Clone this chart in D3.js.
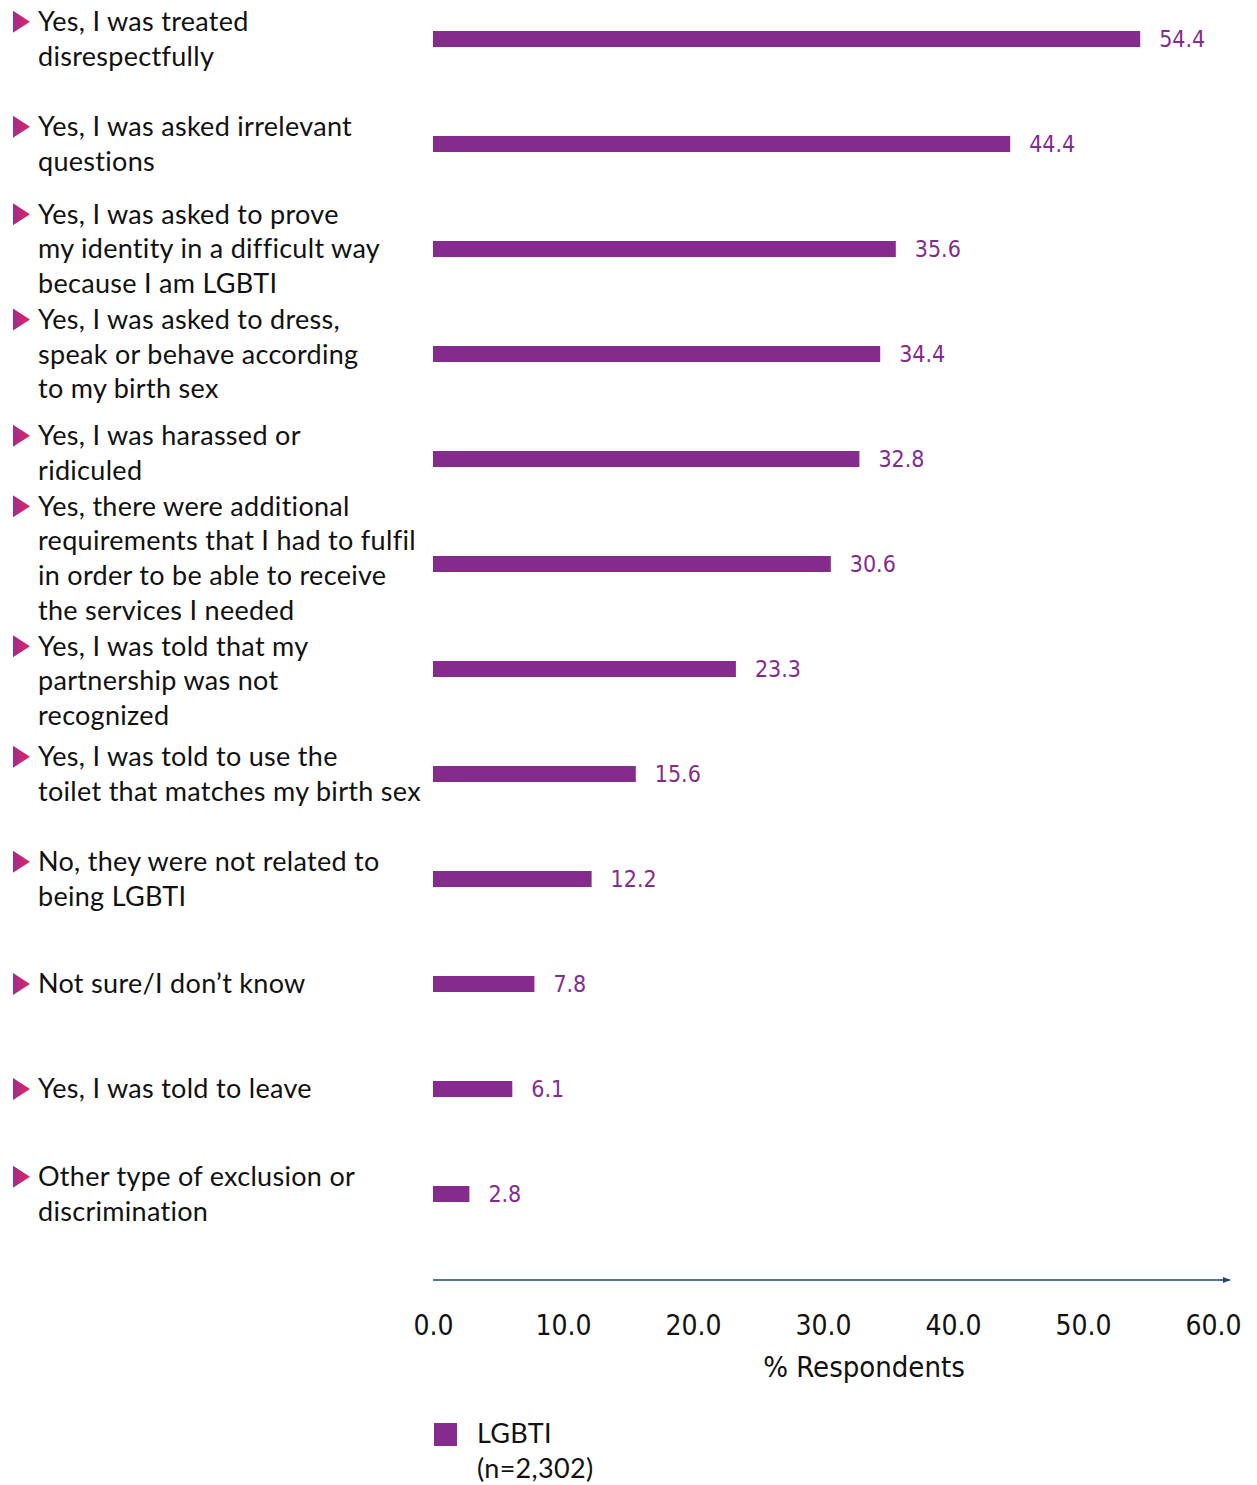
<!DOCTYPE html>
<html><head><meta charset="utf-8">
<script src="https://cdn.jsdelivr.net/npm/d3@7"></script>
<style>
body{margin:0;background:#fff;}
svg{display:block;}
.cat{font-family:Lato,"Noto Sans",sans-serif;font-size:27px;fill:#111;letter-spacing:0.3px;}
.narrow{font-family:"Liberation Sans Narrow","DejaVu Sans Condensed",sans-serif;}
</style></head>
<body>
<script>
const categories = [
  ["Yes, I was treated","disrespectfully"],
  ["Yes, I was asked irrelevant","questions"],
  ["Yes, I was asked to prove","my identity in a difficult way","because I am LGBTI"],
  ["Yes, I was asked to dress,","speak or behave according","to my birth sex"],
  ["Yes, I was harassed or","ridiculed"],
  ["Yes, there were additional","requirements that I had to fulfil","in order to be able to receive","the services I needed"],
  ["Yes, I was told that my","partnership was not","recognized"],
  ["Yes, I was told to use the","toilet that matches my birth sex"],
  ["No, they were not related to","being LGBTI"],
  ["Not sure/I don’t know"],
  ["Yes, I was told to leave"],
  ["Other type of exclusion or","discrimination"]
];
const values = [54.4,44.4,35.6,34.4,32.8,30.6,23.3,15.6,12.2,7.8,6.1,2.8];
const tickValues = [0,10,20,30,40,50,60];
const seriesName = "LGBTI";
const seriesNote = "(n=2,302)";
const axisTitle = "% Respondents";

const W=1257,H=1485;
const svg=d3.select("body").append("svg").attr("width",W).attr("height",H);
const defs=svg.append("defs");
const grad=defs.append("linearGradient").attr("id","tri").attr("x1","0").attr("x2","1").attr("y1","0").attr("y2","0");
grad.append("stop").attr("offset","0").attr("stop-color","#9b2f8f");
grad.append("stop").attr("offset","1").attr("stop-color","#e8225a");
defs.append("marker").attr("id","arr").attr("viewBox","0 0 10 10").attr("refX","9").attr("refY","5")
  .attr("markerWidth","6").attr("markerHeight","6").attr("orient","auto")
  .append("path").attr("d","M0,1L10,5L0,9Z").attr("fill","#1d4a6e");

const x=d3.scaleLinear().domain([0,60]).range([433,1213]);
const y=d3.scaleBand().domain(d3.range(values.length)).range([-13.5,1246.5]);
const barH=16, barColor="#862b8e", lh=34.6;

// bars
svg.selectAll("rect.bar").data(values).join("rect").attr("class","bar")
  .attr("x",x(0)).attr("y",(d,i)=>y(i)+y.bandwidth()/2-barH/2)
  .attr("width",d=>x(d)-x(0)).attr("height",barH).attr("fill",barColor);
// value labels
svg.selectAll("text.val").data(values).join("text").attr("class","val narrow")
  .attr("x",d=>x(d)+19).attr("y",(d,i)=>y(i)+y.bandwidth()/2)
  .attr("dy","0.36em").attr("font-size",23).attr("fill",barColor)
  .text(d=>d3.format(".1f")(d));

// category label layout: centre on bar, then relax to keep a gap between blocks
const centers=categories.map((c,i)=>y(i)+y.bandwidth()/2);
const minGap=36;
for(let it=0;it<200;it++){
  let moved=false;
  for(let i=0;i<categories.length-1;i++){
    const lastA=centers[i]+(categories[i].length-1)*lh/2;
    const firstB=centers[i+1]-(categories[i+1].length-1)*lh/2;
    const gap=firstB-lastA;
    if(gap<minGap-0.01){
      const s=(minGap-gap)/2;
      centers[i]-=s*0.5; centers[i+1]+=s*0.5; moved=true;
    }
  }
  if(!moved)break;
}
const g=svg.selectAll("g.cat").data(categories).join("g").attr("class","cat");
g.each(function(lines,i){
  const top=centers[i]-(lines.length-1)*lh/2;
  const sel=d3.select(this);
  sel.append("path").attr("d",`M13,${top-11}L30,${top}L13,${top+11}Z`).attr("fill","url(#tri)");
  const t=sel.append("text").attr("class","cat");
  lines.forEach((l,k)=>t.append("tspan").attr("x",38).attr("y",top+k*lh).attr("dy","0.35em").text(l));
});

// axis
const ay=1280;
svg.append("line").attr("x1",x(0)).attr("x2",1230).attr("y1",ay).attr("y2",ay)
  .attr("stroke","#1d4a6e").attr("stroke-width",1.3).attr("marker-end","url(#arr)");
const axis=d3.axisBottom(x).tickValues(tickValues).tickSize(0).tickPadding(0).tickFormat(d3.format(".1f"));
const ag=svg.append("g").attr("transform",`translate(0,${ay+45})`).call(axis);
ag.select(".domain").remove();
ag.selectAll("text").attr("class","narrow").attr("font-size",28).attr("fill","#111").attr("dy","0.35em").attr("y",0);
svg.append("text").attr("class","narrow").attr("x",864).attr("y",1367).attr("dy","0.35em")
  .attr("text-anchor","middle").attr("font-size",29).attr("fill","#111").text(axisTitle);

// legend
svg.append("rect").attr("x",434).attr("y",1423).attr("width",23).attr("height",23).attr("fill",barColor);
const lt=svg.append("text").attr("class","cat");
lt.append("tspan").attr("x",477).attr("y",1434).attr("dy","0.35em").text(seriesName);
lt.append("tspan").attr("x",477).attr("y",1469).attr("dy","0.35em").text(seriesNote);
</script>
</body></html>
